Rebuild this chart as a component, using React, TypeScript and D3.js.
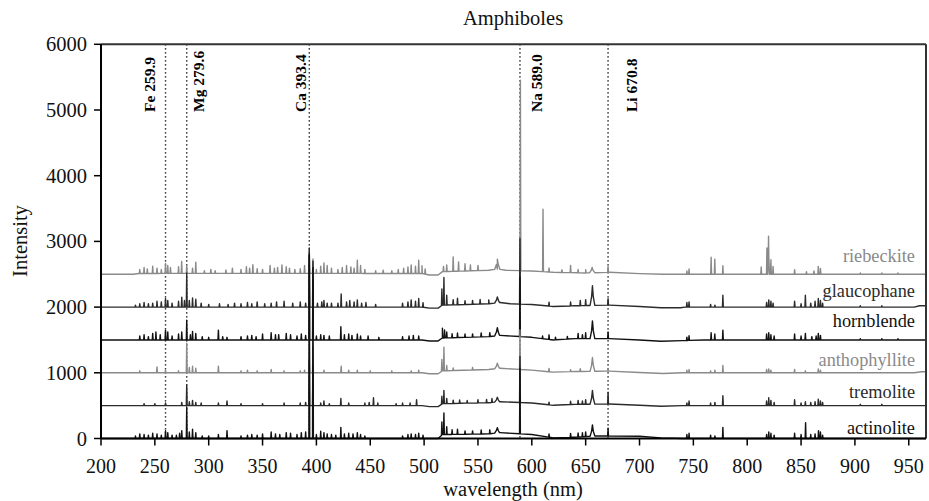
import React from "react";
import * as d3 from "d3";

// ---------- data ----------
const title = "Amphiboles";
const xTicks = [200, 250, 300, 350, 400, 450, 500, 550, 600, 650, 700, 750, 800, 850, 900, 950];
const yTicks = [0, 1000, 2000, 3000, 4000, 5000, 6000];
const elementLines: [string, number][] = [
  ["Fe 259.9", 259.9],
  ["Mg 279.6", 279.6],
  ["Ca 393.4", 393.4],
  ["Na 589.0", 589.0],
  ["Li 670.8", 670.8],
];
const seriesNames = ["riebeckite", "glaucophane", "hornblende", "anthophyllite", "tremolite", "actinolite"];
const seriesOffsets = [2500, 2000, 1500, 1000, 500, 0];

// continuum levels (wavelength, intensity above offset)
const contRiebeckite: [number, number][] = [[200, 0], [230, 0], [235, 12], [300, 14], [498, 12], [505, -12], [513, -12], [517, 40], [560, 60], [568, 80], [576, 60], [600, 50], [620, 30], [650, 20], [672, 30], [700, 10], [722, 0], [966, 0]];
const contGlaucophane: [number, number][] = [[200, 0], [230, 0], [498, 0], [505, -15], [513, -15], [517, 30], [540, 40], [560, 50], [570, 70], [580, 50], [600, 40], [620, 10], [640, 20], [672, 30], [700, 10], [720, -10], [738, -10], [742, 0], [955, 0], [960, 20], [966, 20]];
const contHornblende: [number, number][] = [[200, 0], [230, 0], [498, 0], [505, -15], [513, -15], [517, 30], [560, 50], [570, 70], [600, 40], [620, 0], [640, 20], [672, 20], [700, 0], [720, -20], [740, -10], [760, 0], [966, 0]];
const contAnthophyllite: [number, number][] = [[200, 0], [230, 0], [498, 0], [505, -15], [513, -15], [517, 30], [560, 50], [570, 70], [600, 40], [620, 10], [640, 20], [672, 25], [700, 5], [722, -10], [740, 0], [955, 0], [962, 15], [966, 15]];
const contTremolite: [number, number][] = [[200, 0], [230, 0], [498, 0], [505, -15], [513, -15], [517, 30], [560, 45], [570, 60], [600, 40], [620, 5], [640, 20], [672, 25], [700, 5], [720, -10], [740, 0], [966, 0]];
const contActinolite: [number, number][] = [[200, 0], [230, 0], [505, 0], [513, 0], [517, 60], [560, 70], [570, 90], [600, 60], [620, 10], [640, 20], [660, 40], [700, 35], [720, 10], [740, 0], [966, 0]];

// peaks (wavelength, height, optional half-width in nm)
const peaksRiebeckite: number[][] = [
  [236, 60], [240, 90], [243, 70], [248, 110], [252, 80], [256, 60], [259.9, 150], [262, 120], [264.5, 90], [272, 100], [274.9, 180], [279.6, 120], [285, 80], [288, 170], [296, 40], [302, 60], [306, 40], [316, 50], [322, 80], [330, 60], [335, 100], [338, 80], [341, 130], [345, 70], [350, 60], [357, 120], [361, 80], [364, 90], [368, 130], [372, 100], [375, 80], [380, 60], [385, 70], [389, 120], [393.4, 340], [396.8, 220], [400, 60], [404, 110], [407, 160], [410, 120], [414, 80], [420, 60], [424, 90], [428, 120], [432, 100], [435, 80], [438, 200], [441, 120], [445, 60], [455, 40], [462, 50], [470, 40], [476, 60], [481, 80], [485, 100], [488, 130], [492, 110], [495, 200], [498, 120], [501, 80], [518, 80], [521, 100], [527, 220], [532, 140], [538, 110], [543, 90], [550, 80], [568, 150, 2.5], [589.4, 2900], [610.4, 950], [616, 60], [628, 40], [636, 110], [643, 50], [650, 50], [656, 80, 2.5], [670.8, 90], [744, 50], [746, 80], [766.5, 260], [769.9, 230], [777.4, 130], [813, 110], [818.3, 400], [819.8, 580, 0.8], [822, 220], [824, 120], [844, 70], [855, 40], [862, 50], [866, 120], [868, 90], [905, 20], [925, 20], [940, 20],
];
const peaksGlaucophane: number[][] = [
  [232, 30], [236, 50], [240, 70], [244, 50], [248, 60], [252, 90], [256, 80], [259.9, 130], [262, 100], [266, 60], [272, 90], [275, 150], [277.5, 100], [279.6, 520], [282, 100], [285, 140], [288, 120], [293, 60], [300, 40], [310, 50], [318, 40], [324, 60], [330, 50], [336, 70], [340, 50], [345, 80], [352, 50], [358, 60], [363, 80], [370, 90], [378, 60], [385, 80], [390, 60], [393.4, 900], [396.8, 700], [401, 60], [405, 80], [407, 100], [410, 60], [414, 60], [420, 60], [423, 200], [428, 80], [431, 100], [435, 80], [438, 110], [442, 60], [446, 70], [455, 40], [480, 60], [485, 80], [488, 110], [492, 90], [495, 130], [499, 70], [516.5, 250], [518.4, 420], [521, 150], [527, 80], [531, 100], [538, 60], [545, 60], [552, 70], [560, 60], [568, 90, 2.5], [589, 1000], [616, 60], [636, 60], [645, 80], [650, 90], [656.3, 300, 2.2], [670.8, 100], [744, 70], [746, 80], [766, 40], [770, 30], [777.4, 180], [818, 70], [820, 110], [822, 90], [824, 60], [844, 90], [850, 50], [854, 180], [859, 60], [863, 90], [866, 130], [868, 100], [870, 60], [905, 20], [925, 20],
];
const peaksHornblende: number[][] = [
  [236, 60], [240, 80], [244, 50], [248, 100], [251, 120], [255, 80], [259.9, 150], [262, 120], [266, 60], [272, 90], [275, 120], [279.6, 300], [283, 80], [285, 130], [288, 100], [294, 50], [300, 40], [309, 150], [313, 50], [317, 40], [330, 50], [336, 60], [340, 70], [344, 50], [350, 90], [358, 110], [362, 80], [365, 80], [372, 100], [376, 80], [382, 60], [386, 90], [390, 70], [393.4, 1300], [396.8, 1100], [400, 60], [404, 80], [407, 70], [412, 60], [422.7, 200], [426, 80], [430, 90], [433, 70], [438, 90], [441, 60], [448, 60], [458, 40], [480, 50], [486, 60], [490, 70], [495, 60], [517, 150], [519, 120], [521, 90], [526, 60], [531, 70], [538, 50], [545, 50], [553, 60], [561, 60], [568, 120, 2.5], [589, 900], [610, 40], [616, 70], [622, 40], [633, 40], [643, 80], [647, 60], [650, 90], [656.3, 270, 2.2], [670.8, 100], [744, 50], [746, 70], [766.5, 110], [769.9, 90], [777.4, 150], [818, 90], [820, 110], [822, 80], [825, 60], [844, 90], [850, 60], [854, 100], [860, 50], [864, 60], [866, 100], [868, 70], [905, 20], [925, 20], [940, 20],
];
const peaksAnthophyllite: number[][] = [
  [236, 30], [252, 90], [259.9, 40], [272, 30], [279.6, 450], [282, 80], [285, 100], [288, 70], [309, 100], [330, 30], [336, 40], [345, 30], [358, 50], [370, 30], [385, 30], [389, 40], [393.4, 500], [396.8, 400], [407, 40], [423, 100], [430, 40], [438, 40], [450, 30], [470, 30], [488, 30], [495, 40], [516.5, 180], [518.4, 360], [521, 80], [527, 40], [545, 40], [568, 80, 2.5], [589, 600], [616, 50], [636, 30], [645, 40], [656.3, 210, 2.2], [670.8, 40], [744, 40], [746, 50], [766, 30], [770, 40], [777.4, 110], [818, 50], [820, 60], [822, 40], [844, 50], [854, 30], [866, 60], [868, 40],
];
const peaksTremolite: number[][] = [
  [240, 30], [250, 30], [259.9, 40], [275, 50], [279.6, 315], [282, 60], [285, 80], [288, 50], [293, 40], [309, 40], [317, 70], [330, 30], [350, 30], [370, 40], [385, 40], [390, 50], [393.4, 700], [396.8, 600], [404, 40], [407, 70], [412, 30], [422.7, 110], [430, 40], [445, 40], [449, 50], [453, 120], [457, 40], [474, 30], [480, 40], [487, 40], [493, 90], [516.5, 120], [518.4, 200], [521, 80], [527, 50], [533, 50], [540, 40], [550, 50], [558, 50], [563, 60], [568, 70, 2.5], [589, 700], [616, 40], [636, 50], [643, 60], [647, 50], [650, 70], [656.3, 210, 2.2], [670.8, 180], [744, 40], [746, 70], [766, 40], [770, 50], [777.4, 150], [818, 70], [820, 120], [822, 80], [825, 50], [844, 90], [850, 40], [854, 60], [859, 50], [863, 60], [866, 100], [868, 70], [870, 50], [905, 20], [925, 20],
];
const peaksActinolite: number[][] = [
  [232, 40], [236, 70], [240, 60], [244, 50], [248, 80], [252, 70], [256, 50], [259.9, 120], [262, 90], [266, 50], [270, 50], [273, 80], [275, 120], [279.6, 480], [282, 100], [285, 140], [288, 90], [294, 40], [300, 40], [309, 60], [317, 120], [330, 40], [336, 50], [340, 60], [345, 50], [350, 70], [358, 100], [362, 70], [366, 60], [372, 90], [376, 80], [382, 60], [386, 90], [390, 100], [393.4, 2790], [396.8, 2400], [400, 60], [404, 110], [407, 90], [410, 70], [414, 60], [418, 50], [422.7, 170], [426, 70], [430, 80], [434, 70], [438, 90], [441, 60], [445, 40], [480, 40], [485, 60], [488, 70], [492, 60], [495, 80], [499, 50], [516.5, 200], [518.4, 330], [521, 120], [526, 70], [531, 80], [538, 50], [545, 50], [553, 60], [561, 60], [568, 80, 2.5], [589, 1000], [616, 50], [636, 60], [643, 60], [647, 60], [650, 70], [656.3, 170, 2.2], [670.8, 120], [744, 60], [746, 80], [766, 50], [770, 40], [777.4, 170], [818, 60], [820, 100], [822, 80], [825, 50], [844, 80], [850, 60], [854.2, 240], [859, 60], [863, 70], [866.2, 120], [868, 100], [870, 50],
];

const seriesCont = [contRiebeckite, contGlaucophane, contHornblende, contAnthophyllite, contTremolite, contActinolite];
const seriesPeaks = [peaksRiebeckite, peaksGlaucophane, peaksHornblende, peaksAnthophyllite, peaksTremolite, peaksActinolite];

// ---------- styling / layout ----------
const W = 929, H = 501;
const colors = ["#8a8a8a", "#2b2b2b", "#111111", "#8a8a8a", "#2b2b2b", "#111111"];
const labelShift = [12, 10, 13, 7, 8, 4.5]; // px above the baseline
const elementDx = [-11, 17, -3.5, 22, 29];
const FONT = "Liberation Serif, DejaVu Serif, serif";

const x = d3.scaleLinear().domain([200, 966]).range([101, 926]);
const y = d3.scaleLinear().domain([0, 6000]).range([438.5, 44.3]);

function buildPoints(cont: [number, number][], peaks: number[][]): [number, number][] {
  const c = d3.scaleLinear().domain(cont.map((d) => d[0])).range(cont.map((d) => d[1]));
  const pts: [number, number][] = cont.map((d) => [d[0], d[1]]);
  for (const p of peaks) {
    const w = p[0], h = p[1], hw = p[2] ?? 0.4;
    pts.push([w - hw, c(w - hw)]);
    if (p[2] !== undefined) {
      pts.push([w - hw * 0.35, c(w) + h * 0.45]);
      pts.push([w, c(w) + h]);
      pts.push([w + hw * 0.35, c(w) + h * 0.45]);
    } else {
      pts.push([w, c(w) + h]);
    }
    pts.push([w + hw, c(w + hw)]);
  }
  pts.sort((a, b) => a[0] - b[0]);
  return pts;
}

const txt = { fontFamily: FONT };

export default function App() {
  const line = (offset: number) =>
    d3.line<[number, number]>().x((d) => x(d[0])).y((d) => y(d[1] + offset));

  return (
    <svg width={W} height={H} style={{ position: "absolute", left: 0, top: 0, background: "#fff", fontFamily: FONT }}>
      <rect x={0} y={0} width={W} height={H} fill="#fff" />
      {/* element dotted lines */}
      {elementLines.map(([lab, wl]) => (
        <line key={lab} x1={x(wl)} x2={x(wl)} y1={y(6000)} y2={y(0)} stroke="#000" strokeWidth={1.4} strokeDasharray="1.3,2.7" />
      ))}
      {/* spectra */}
      {seriesNames.map((name, i) => (
        <path
          key={name}
          d={line(seriesOffsets[i])(buildPoints(seriesCont[i], seriesPeaks[i])) || ""}
          fill="none"
          stroke={colors[i]}
          strokeWidth={1.4}
          strokeLinejoin="round"
        />
      ))}
      {/* element labels */}
      {elementLines.map(([lab, wl], i) => (
        <text
          key={lab}
          transform={`translate(${x(wl) + elementDx[i]},112) rotate(-90)`}
          fontSize={15.5}
          fontWeight="bold"
          fill="#000"
          style={txt}
        >
          {lab}
        </text>
      ))}
      {/* series labels */}
      {seriesNames.map((name, i) => (
        <text key={name} x={915} y={y(seriesOffsets[i]) - labelShift[i]} textAnchor="end" fontSize={18.3} fill={colors[i]} style={txt}>
          {name}
        </text>
      ))}
      {/* frame */}
      <line x1={x(200)} x2={926} y1={y(6000)} y2={y(6000)} stroke="#333" strokeWidth={2} />
      <line x1={926} x2={926} y1={y(6000)} y2={y(0)} stroke="#333" strokeWidth={2} />
      <line x1={x(200)} x2={926} y1={y(0)} y2={y(0)} stroke="#000" strokeWidth={2} />
      <line x1={x(200)} x2={x(200)} y1={y(6000)} y2={y(0)} stroke="#000" strokeWidth={2} />
      {/* y axis */}
      {yTicks.map((t) => (
        <g key={t}>
          <line x1={x(200) - 7} x2={x(200)} y1={y(t)} y2={y(t)} stroke="#000" strokeWidth={1.5} />
          <text x={87} y={y(t) + 7} textAnchor="end" fontSize={20.5} fill="#111" style={txt}>
            {t}
          </text>
        </g>
      ))}
      {/* x axis */}
      {xTicks.map((t) => (
        <g key={t}>
          <line x1={x(t)} x2={x(t)} y1={y(0)} y2={y(0) + 7} stroke="#000" strokeWidth={1.5} />
          <text x={x(t)} y={473} textAnchor="middle" fontSize={20} fill="#111" style={txt}>
            {t}
          </text>
        </g>
      ))}
      <text x={513} y={25} textAnchor="middle" fontSize={20.5} fill="#111" style={txt}>
        {title}
      </text>
      <text x={513} y={496} textAnchor="middle" fontSize={20.5} fill="#111" style={txt}>
        wavelength (nm)
      </text>
      <text transform="translate(27,241) rotate(-90)" textAnchor="middle" fontSize={20.5} fill="#111" style={txt}>
        Intensity
      </text>
    </svg>
  );
}
